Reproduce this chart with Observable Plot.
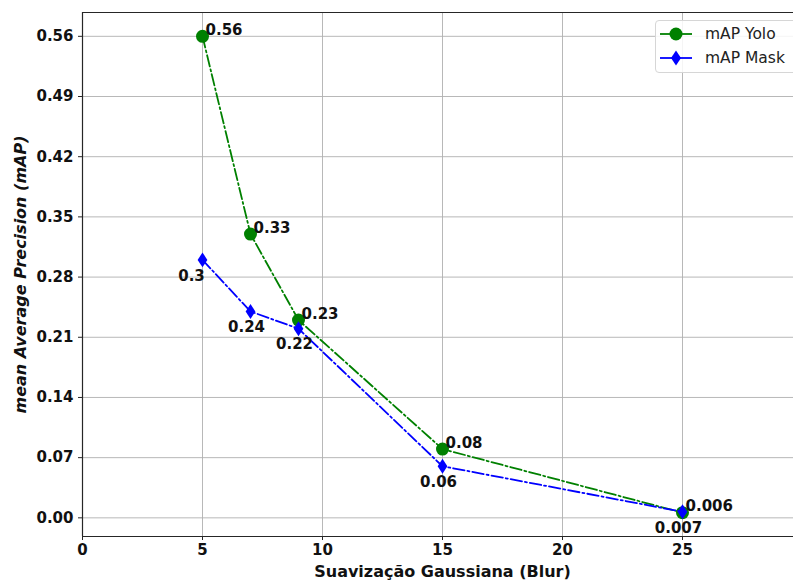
<!DOCTYPE html>
<html>
<head>
<meta charset="utf-8">
<script src="https://cdn.jsdelivr.net/npm/d3@7"></script>
<script src="https://cdn.jsdelivr.net/npm/@observablehq/plot@0.6"></script>
<style>
  html, body { margin: 0; padding: 0; background: #fff; }
  #wrap { position: relative; width: 793px; height: 583px; overflow: hidden; font-family: "DejaVu Sans", sans-serif; }
  #legend { position: absolute; left: 655px; top: 20px; width: 150px; height: 53px; box-sizing: border-box;
    border: 1px solid #d6d6d6; border-radius: 4px; background: rgba(255,255,255,0.85); }
  .row { position: absolute; left: 0; height: 20px; display: flex; align-items: center; }
  .row svg { margin-left: 4px; }
  .row span { margin-left: 13px; font-size: 15.5px; color: #222; }
</style>
</head>
<body>
<div id="wrap">
  <div id="chart"></div>
  <div id="legend"></div>
</div>
<script>
const blur = [5, 7, 9, 15, 25];
const yoloMap = [0.56, 0.33, 0.23, 0.08, 0.006];
const maskMap = [0.30, 0.24, 0.22, 0.06, 0.007];
const yoloLabels = ["0.56", "0.33", "0.23", "0.08", "0.006"];
const maskLabels = ["0.3", "0.24", "0.22", "0.06", "0.007"];
const xTicks = [0, 5, 10, 15, 20, 25];
const yTicks = [0, 0.07, 0.14, 0.21, 0.28, 0.35, 0.42, 0.49, 0.56];
const xDomain = [0, 30];
const yDomain = [-0.0217, 0.5877];
const seriesNames = ["mAP Yolo", "mAP Mask"];
const seriesColors = ["green", "blue"];
const xTitle = "Suavização Gaussiana (Blur)";
const yTitle = "mean Average Precision (mAP)";

const yolo = blur.map((x, i) => ({x, y: yoloMap[i], label: yoloLabels[i]}));
const mask = blur.map((x, i) => ({x, y: maskMap[i], label: maskLabels[i]}));

const thinDiamond = {
  draw(ctx, size) {
    const r = Math.sqrt(size / Math.PI);
    ctx.moveTo(0, -r * 1.15);
    ctx.lineTo(r * 0.75, 0);
    ctx.lineTo(0, r * 1.15);
    ctx.lineTo(-r * 0.75, 0);
    ctx.closePath();
  }
};

const dash = "11.5,3,2,3";
const spine = "#262626";

const chart = Plot.plot({
  width: 793,
  height: 583,
  marginLeft: 82,
  marginRight: 0,
  marginTop: 12,
  marginBottom: 47,
  style: {fontFamily: "DejaVu Sans, sans-serif", fontSize: "15px", fontWeight: "bold", color: "#111", background: "#fff"},
  x: {domain: xDomain, range: [82, 802]},
  y: {domain: yDomain},
  marks: [
    Plot.gridX(xTicks, {stroke: "#b0b0b0", strokeOpacity: 1, strokeWidth: 0.9}),
    Plot.gridY(yTicks, {stroke: "#b0b0b0", strokeOpacity: 1, strokeWidth: 0.9}),
    Plot.axisX(xTicks, {tickSize: 4, tickPadding: 4, label: null, stroke: spine, fontSize: 15}),
    Plot.axisY(yTicks, {tickSize: 4, tickPadding: 5, label: null, tickFormat: d => d.toFixed(2), stroke: spine, fontSize: 15}),
    Plot.ruleX([xDomain[0]], {stroke: spine, strokeWidth: 1.2}),
    Plot.ruleY([yDomain[0]], {stroke: spine, strokeWidth: 1.2}),
    Plot.ruleY([yDomain[1]], {stroke: spine, strokeWidth: 1.2}),
    Plot.line(yolo, {x: "x", y: "y", stroke: seriesColors[0], strokeWidth: 1.8, strokeDasharray: dash}),
    Plot.dot(yolo, {x: "x", y: "y", r: 6.5, fill: seriesColors[0], stroke: "none"}),
    Plot.line(mask, {x: "x", y: "y", stroke: seriesColors[1], strokeWidth: 1.8, strokeDasharray: dash}),
    Plot.dot(mask, {x: "x", y: "y", r: 6.5, symbol: thinDiamond, fill: seriesColors[1], stroke: "none"}),
    Plot.text(yolo, {x: "x", y: "y", text: "label", textAnchor: "start", dx: 3, dy: -6, fontSize: 15, fontWeight: "bold", fill: "#111"}),
    Plot.text(mask, {filter: (d, i) => i === 0, x: "x", y: "y", text: "label", textAnchor: "middle", dx: -11, dy: 16, fontSize: 15, fontWeight: "bold", fill: "#111"}),
    Plot.text(mask, {filter: (d, i) => i > 0, x: "x", y: "y", text: "label", textAnchor: "middle", dx: -4, dy: 16, fontSize: 15, fontWeight: "bold", fill: "#111"}),
    Plot.text([xTitle], {x: 15, frameAnchor: "bottom", lineAnchor: "middle", textAnchor: "middle", dy: 35, fontSize: 16, fontWeight: "bold", fill: "#111"}),
    Plot.text([yTitle], {frameAnchor: "left", textAnchor: "middle", lineAnchor: "middle", rotate: -90, dx: -62, fontSize: 16, fontWeight: "bold", fontStyle: "italic", fill: "#111"})
  ]
});
document.getElementById("chart").appendChild(chart);

// legend
const legend = document.getElementById("legend");
seriesNames.forEach((name, i) => {
  const row = document.createElement("div");
  row.className = "row";
  row.style.top = (i === 0 ? 3 : 27) + "px";
  const marker = i === 0
    ? `<circle cx="16" cy="10" r="6.5" fill="${seriesColors[i]}"/>`
    : `<path d="M16,2.5 L21,10 L16,17.5 L11,10 Z" fill="${seriesColors[i]}"/>`;
  row.innerHTML = `<svg width="32" height="20"><line x1="0" x2="32" y1="10" y2="10" stroke="${seriesColors[i]}" stroke-width="1.8"/>${marker}</svg><span>${name}</span>`;
  legend.appendChild(row);
});
</script>
</body>
</html>
